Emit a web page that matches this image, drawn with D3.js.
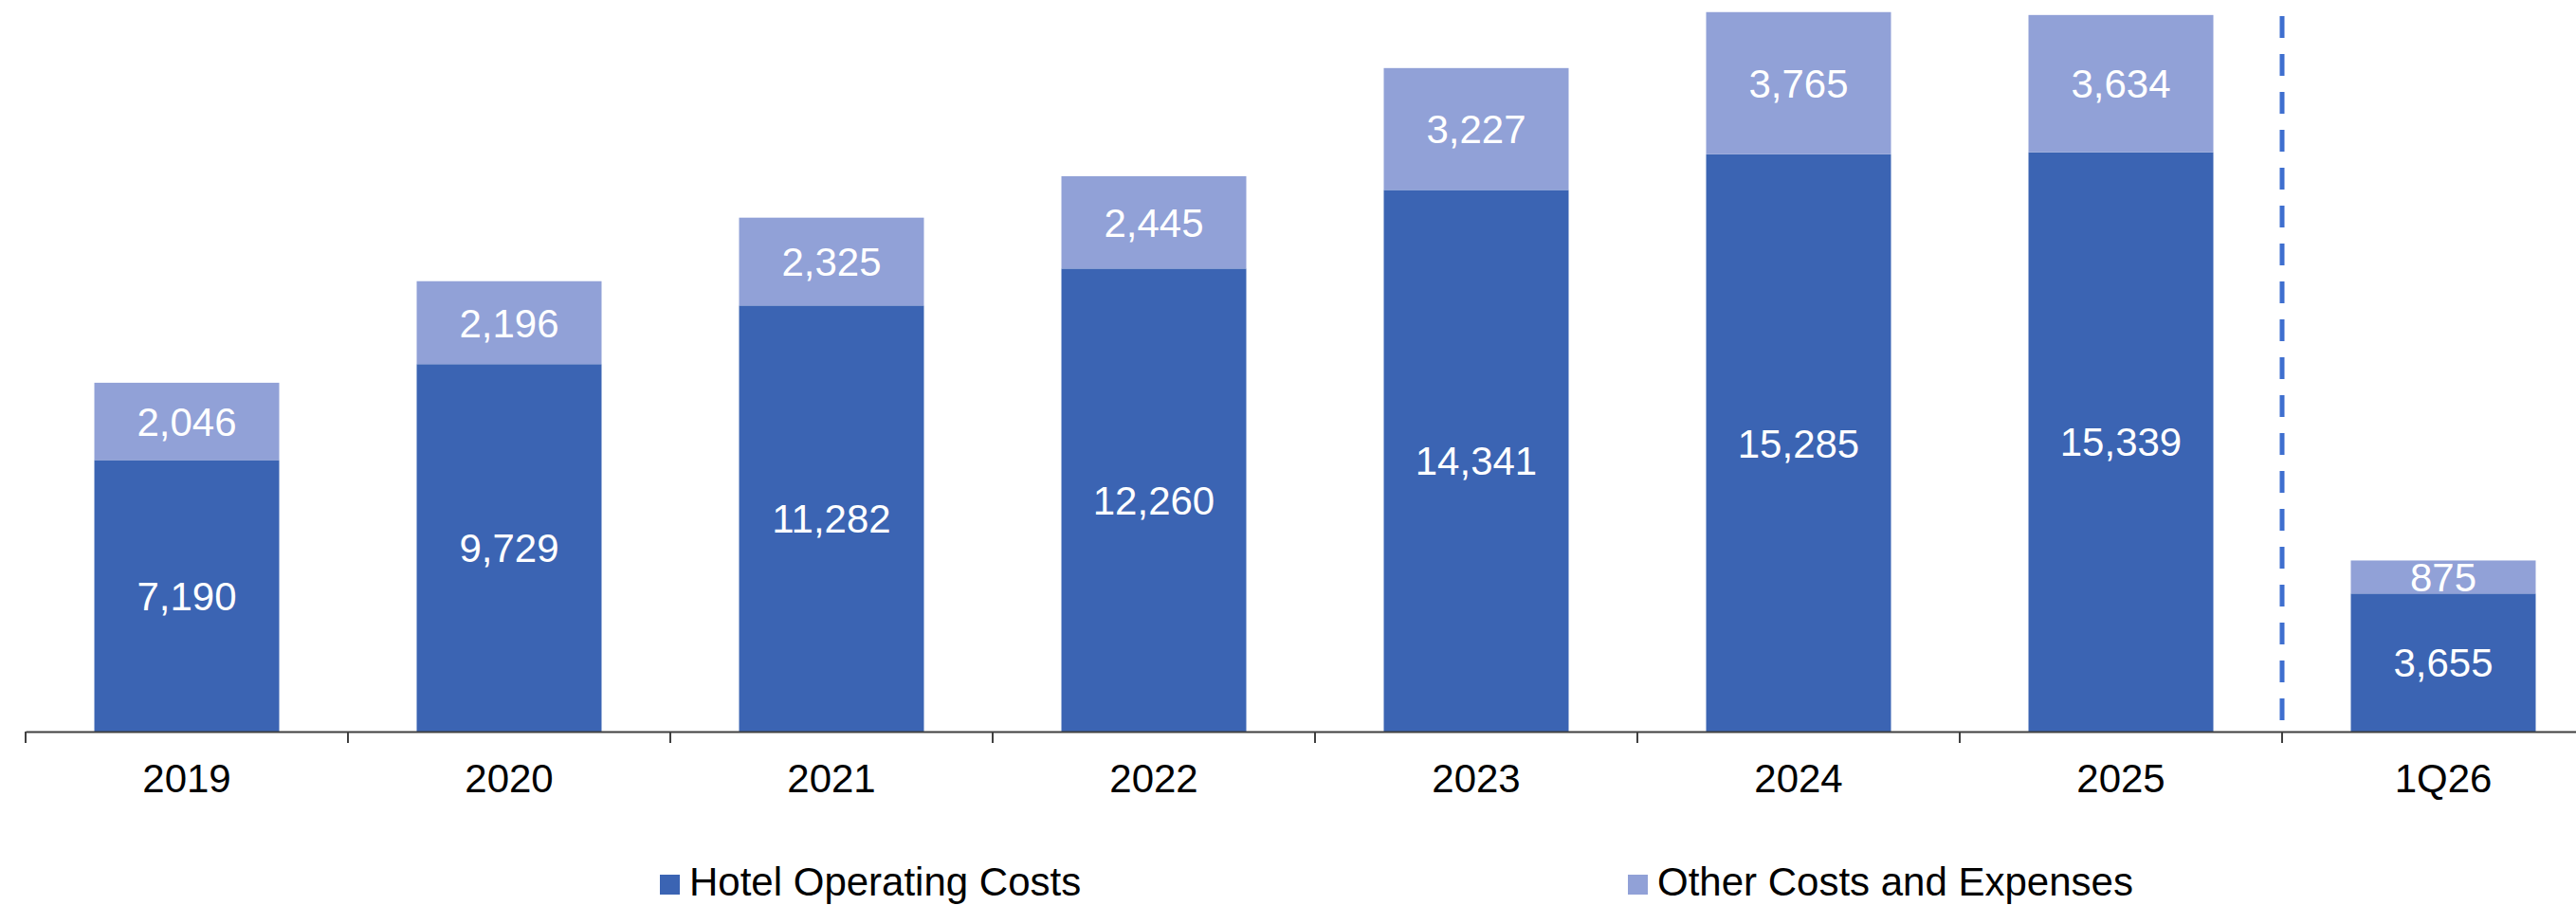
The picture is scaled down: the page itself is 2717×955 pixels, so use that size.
<!DOCTYPE html>
<html>
<head>
<meta charset="utf-8">
<script src="https://cdn.jsdelivr.net/npm/d3@7"></script>
<style>
  body { margin: 0; background: #fff; }
  svg { display: block; font-family: "Liberation Sans", Arial, Helvetica, sans-serif; }
</style>
</head>
<body>
<script>
// chart data
var categories = ['2019', '2020', '2021', '2022', '2023', '2024', '2025', '1Q26'];
var hotelCosts = [7190, 9729, 11282, 12260, 14341, 15285, 15339, 3655];
var otherCosts = [2046, 2196, 2325, 2445, 3227, 3765, 3634, 875];
var seriesNames = ['Hotel Operating Costs', 'Other Costs and Expenses'];
var seriesColors = ['#3B64B3', '#91A1D7'];

var w = 2717, h = 955;
var baseY = 772;

var svg = d3.select("body").append("svg")
    .attr("width", w)
    .attr("height", h);

// 8 bands of 340px starting at x=27 (last one runs past the right edge)
var x = d3.scaleBand()
    .domain(categories)
    .range([27, 27 + 340 * categories.length])
    .paddingInner(0.4265)
    .paddingOuter(0.4265 / 2);

var y = d3.scaleLinear()
    .domain([0, 19370])
    .range([baseY, 0]);

var gap = x.step() * x.paddingInner() / 2;

// stack it up
var rows = categories.map(function(c, i) {
  return { cat: c, hotel: hotelCosts[i], other: otherCosts[i] };
});
var stack = d3.stack().keys(['hotel', 'other'])(rows);

var layers = svg.selectAll("g.layer")
  .data(stack)
  .enter().append("g")
    .attr("class", "layer")
    .attr("fill", function(d, i) { return seriesColors[i]; });

layers.selectAll("rect")
  .data(function(d) { return d; })
  .enter().append("rect")
    .attr("x", function(d) { return x(d.data.cat); })
    .attr("width", x.bandwidth())
    .attr("y", function(d) { return y(d[1]); })
    .attr("height", function(d) { return y(d[0]) - y(d[1]); });

// value labels, centred in each segment
layers.selectAll("text")
  .data(function(d) { return d; })
  .enter().append("text")
    .attr("x", function(d) { return x(d.data.cat) + x.bandwidth() / 2; })
    .attr("y", function(d) { return (y(d[0]) + y(d[1])) / 2; })
    .attr("dy", "0.36em")
    .attr("text-anchor", "middle")
    .attr("fill", "#fff")
    .attr("font-size", 42)
    .text(function(d) { return d3.format(",")(d[1] - d[0]); });

// x axis
var xAxis = svg.append("g")
    .attr("transform", "translate(0," + baseY + ")")
    .call(d3.axisBottom(x).tickSize(0).tickSizeOuter(0).tickPadding(34));

xAxis.select(".domain")
    .attr("stroke", "#404040")
    .attr("stroke-width", 2);

xAxis.selectAll("text")
    .attr("font-size", 42)
    .attr("font-family", "Liberation Sans, Arial, sans-serif")
    .attr("fill", "#000");

// tick marks sit between the bands
svg.append("g").selectAll("line")
  .data(categories)
  .enter().append("line")
    .attr("x1", function(d) { return x(d) - gap; })
    .attr("x2", function(d) { return x(d) - gap; })
    .attr("y1", baseY)
    .attr("y2", baseY + 12)
    .attr("stroke", "#404040")
    .attr("stroke-width", 2);

// dashed divider before the quarter
var divX = x('1Q26') - gap;
svg.append("line")
    .attr("x1", divX)
    .attr("x2", divX)
    .attr("y1", -23)
    .attr("y2", 762)
    .attr("stroke", "#3F6FCF")
    .attr("stroke-width", 5)
    .attr("stroke-dasharray", "23,17");

// legend
var legendX = [696, 1717];
var legend = svg.selectAll("g.legend")
  .data(seriesNames)
  .enter().append("g")
    .attr("class", "legend")
    .attr("transform", function(d, i) { return "translate(" + legendX[i] + ",923)"; });

legend.append("rect")
    .attr("width", 21)
    .attr("height", 21)
    .attr("fill", function(d, i) { return seriesColors[i]; });

legend.append("text")
    .attr("x", 31)
    .attr("y", 22)
    .attr("font-size", 42)
    .attr("fill", "#000")
    .text(function(d) { return d; });
</script>
</body>
</html>
